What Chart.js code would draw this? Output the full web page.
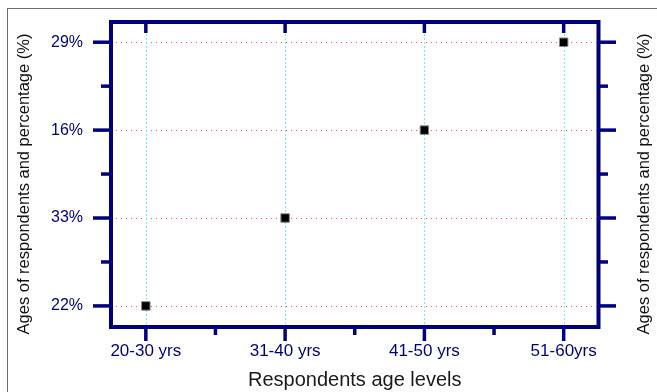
<!DOCTYPE html>
<html>
<head>
<meta charset="utf-8">
<script src="https://cdn.jsdelivr.net/npm/chart.js@4.4.1/dist/chart.umd.min.js"></script>
<style>
    html, body { margin: 0; padding: 0; background: #fff; }
    #frame { position: absolute; left: 7px; top: 8px; width: 700px; height: 400px; border-left: 1px solid #6e6e6e; border-top: 1px solid #6e6e6e; }
    #wrap { position: absolute; left: 0; top: 0; width: 657px; height: 392px; }
</style>
</head>
<body>
<div id="frame"></div>
<div id="wrap"><canvas id="agechart"></canvas></div>
<script>
"use strict";

/* chart data */
var ageLevels = ['20-30 yrs', '31-40 yrs', '41-50 yrs', '51-60yrs'];
var percentTicks = ['22%', '33%', '16%', '29%'];   // y axis, bottom to top
var agePercent = ['22%', '33%', '16%', '29%'];     // one per age level
var xTitle = 'Respondents age levels';
var yTitle = 'Ages of respondents and percentage (%)';

var navy = '#00007f';
var labelFont = '"Liberation Sans", Arial, sans-serif';

function halfSteps(count) {
    var t = [];
    for (var v = 0; v <= count - 1; v += 0.5) t.push({ value: v });
    return t;
}

function line(ctx, x1, y1, x2, y2) {
    ctx.beginPath(); ctx.moveTo(x1, y1); ctx.lineTo(x2, y2); ctx.stroke();
}

/* dotted grid, drawn under the points */
var gridPlugin = {
    id: 'dotgrid',
    beforeDatasetsDraw: function (chart) {
        var ctx = chart.ctx, a = chart.chartArea;
        var xs = chart.scales.x, ys = chart.scales.y;
        ctx.save();
        ctx.lineWidth = 1;
        ctx.strokeStyle = '#ff4d4d';
        ctx.setLineDash([1, 4]);
        ys.ticks.forEach(function (t) {
            if (!Number.isInteger(t.value)) return;
            var y = Math.round(ys.getPixelForValue(t.value)) + 0.5;
            line(ctx, a.left, y, a.right, y);
        });
        ctx.strokeStyle = '#66f0f0';
        ctx.setLineDash([2, 2]);
        xs.ticks.forEach(function (t) {
            if (!Number.isInteger(t.value)) return;
            var x = Math.round(xs.getPixelForValue(t.value)) + 0.5;
            line(ctx, x, a.top, x, a.bottom);
        });
        ctx.restore();
    }
};

/* frame, tick marks and side titles */
var framePlugin = {
    id: 'frame',
    afterDraw: function (chart) {
        var ctx = chart.ctx, a = chart.chartArea;
        var xs = chart.scales.x, ys = chart.scales.y;
        ctx.save();
        ctx.strokeStyle = navy;
        ctx.lineWidth = 4;
        ctx.strokeRect(a.left, a.top, a.right - a.left, a.bottom - a.top);
        ctx.lineWidth = 3.5;
        ys.ticks.forEach(function (t) {
            var y = ys.getPixelForValue(t.value);
            var major = Number.isInteger(t.value);
            line(ctx, a.left - (major ? 18 : 10), y, a.left, y);
            line(ctx, a.right, y, a.right + (major ? 17.5 : 9.5), y);
        });
        xs.ticks.forEach(function (t) {
            var x = xs.getPixelForValue(t.value);
            var major = Number.isInteger(t.value);
            line(ctx, x, a.bottom, x, a.bottom + (major ? 14 : 8));
            if (major) line(ctx, x, a.top, x, a.top + 11);
        });
        // y titles, both reading bottom to top
        ctx.fillStyle = '#111';
        ctx.font = '16.5px ' + labelFont;
        ctx.textAlign = 'center';
        ctx.textBaseline = 'alphabetic';
        var cy = (a.top + a.bottom) / 2 + 9.5;
        [29, a.right + 50.5].forEach(function (x) {
            ctx.save();
            ctx.translate(x, cy);
            ctx.rotate(-Math.PI / 2);
            ctx.fillText(yTitle, 0, 0);
            ctx.restore();
        });
        ctx.restore();
    }
};

var agechart = document.getElementById('agechart').getContext('2d');

var agechartConfig = {
    type: 'scatter',
    data: {
        datasets: [{
            data: ageLevels.map(function (l, i) {
                return { x: i, y: percentTicks.indexOf(agePercent[i]) };
            }),
            pointStyle: 'rect',
            pointRadius: 6,
            pointHoverRadius: 6,
            backgroundColor: '#000',
            borderColor: '#8a8a8a',
            borderWidth: 1,
        }]
    },
    options: {
        animation: false,
        responsive: true,
        maintainAspectRatio: false,
        layout: {
            padding: { top: 22, right: 58.5, left: 0, bottom: 0 }
        },
        plugins: {
            legend: { display: false },
            tooltip: { enabled: false },
        },
        scales: {
            x: {
                type: 'linear',
                min: -0.25,
                max: ageLevels.length - 0.75,
                afterBuildTicks: function (scale) { scale.ticks = halfSteps(ageLevels.length); },
                afterFit: function (scale) {
                    scale.height = 65;
                    scale.paddingLeft = 0;
                    scale.paddingRight = 0;
                },
                border: { display: false },
                grid: { display: false, drawTicks: false },
                ticks: {
                    padding: 14,
                    color: navy,
                    font: { family: labelFont, size: 17 },
                    maxRotation: 0,
                    autoSkip: false,
                    callback: function (v) { return Number.isInteger(v) ? ageLevels[v] : ''; }
                },
                title: {
                    display: true,
                    text: xTitle,
                    color: '#1a1a1a',
                    font: { family: labelFont, size: 20 },
                    padding: { top: 0, bottom: 0 }
                }
            },
            y: {
                type: 'linear',
                min: -0.24,
                max: percentTicks.length - 0.77,
                afterBuildTicks: function (scale) { scale.ticks = halfSteps(percentTicks.length); },
                afterFit: function (scale) {
                    scale.width = 111;
                    scale.paddingTop = 0;
                    scale.paddingBottom = 0;
                },
                border: { display: false },
                grid: { display: false, drawTicks: false },
                ticks: {
                    padding: 28,
                    color: navy,
                    font: { family: labelFont, size: 16 },
                    autoSkip: false,
                    callback: function (v) { return Number.isInteger(v) ? percentTicks[v] : ''; }
                }
            }
        }
    },
    plugins: [gridPlugin, framePlugin]
};

var myAgeChart = new Chart(agechart, agechartConfig);
</script>
</body>
</html>
